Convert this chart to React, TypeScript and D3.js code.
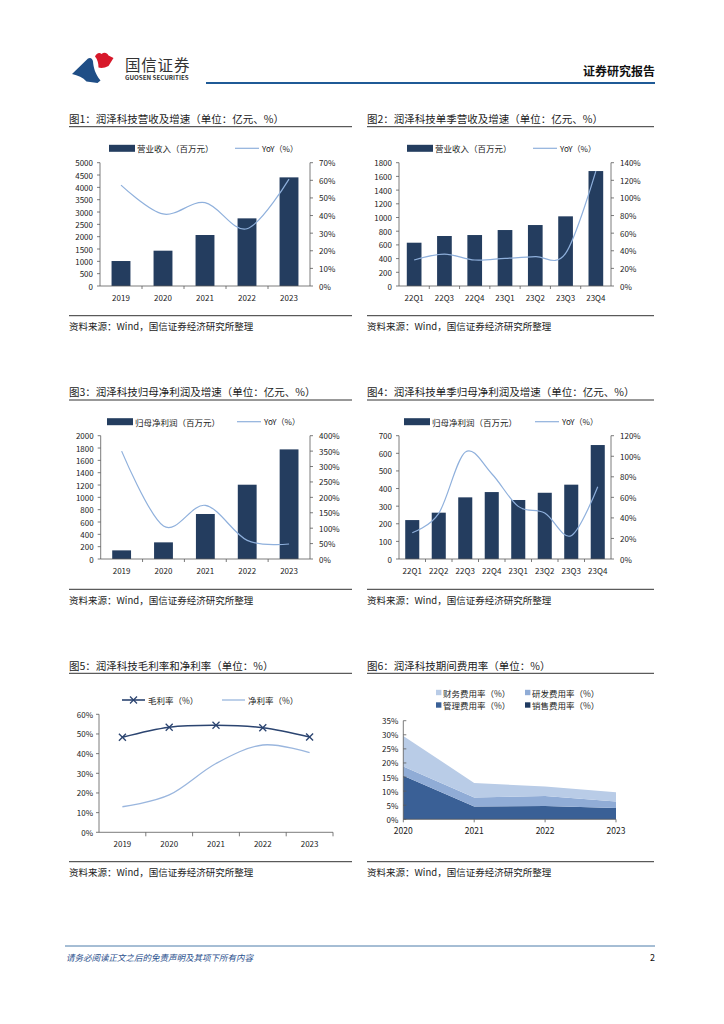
import React from 'react';
import * as d3 from 'd3';

// ---------- DATA ----------
const annualYears = ['2019', '2020', '2021', '2022', '2023'];
const revenue = [1013, 1432, 2068, 2743, 4405];
const revenueYoY = [57.3, 40.9, 47.3, 32.5, 60.7];

const quartersA = ['22Q1', '22Q3', '22Q4', '23Q1', '23Q2', '23Q3', '23Q4'];
const quarterRevenue = [632, 730, 744, 817, 890, 1017, 1678];
const quarterRevenueYoY = [29.5, 36.3, 29.5, 31.4, 33.3, 37, 130.5];

const netProfit = [140, 270, 730, 1205, 1778];
const netProfitYoY = [350, 107, 174, 60.5, 48.6];

const quartersB = ['22Q1', '22Q2', '22Q3', '22Q4', '23Q1', '23Q2', '23Q3', '23Q4'];
const quarterNetProfit = [221, 263, 350, 380, 335, 376, 422, 647];
const quarterNetProfitYoY = [25.6, 44.4, 104, 83, 51.2, 44.7, 22.7, 70.4];

const grossMargin = [48.3, 53.4, 54.4, 53.2, 48.5];
const netMargin = [13, 19, 35, 44.4, 40.5];

const expenseYears = ['2020', '2021', '2022', '2023'];
const sellingRate = [0, 0, 0, 0];
const adminRate = [15.5, 4.5, 4.7, 4.0];
const rdRate = [3.2, 3.2, 3.6, 2.3];
const financeRate = [10.9, 5.2, 3.3, 3.3];

const titles = [
  '图1：润泽科技营收及增速（单位：亿元、%）',
  '图2：润泽科技单季营收及增速（单位：亿元、%）',
  '图3：润泽科技归母净利润及增速（单位：亿元、%）',
  '图4：润泽科技单季归母净利润及增速（单位：亿元、%）',
  '图5：润泽科技毛利率和净利率（单位：%）',
  '图6：润泽科技期间费用率（单位：%）',
];
const sourceText = '资料来源：Wind，国信证券经济研究所整理';

// ---------- STYLE ----------
const FONT = "'Noto Sans CJK SC', 'Noto Sans', sans-serif";
const BAR = '#243d5f';
const YOY = '#8fb0dc';
const AXIS = '#5a5a5a';
const TXT = '#222';

type BarChartProps = {
  cats: string[];
  bars: number[];
  line: number[];
  left: number;
  right: number;
  top: number;
  bottom: number;
  lMax: number;
  lStep: number;
  rMax: number;
  rStep: number;
  pad: number;
  labelY: number;
  legendY: number;
  legRectX: number;
  legText: string;
  legLineX: number;
};

function BarLineChart(p: BarChartProps) {
  const x = d3.scaleBand<string>().domain(p.cats).range([p.left, p.right]).paddingInner(p.pad).paddingOuter(p.pad / 2);
  const yl = d3.scaleLinear().domain([0, p.lMax]).range([p.bottom, p.top]);
  const yr = d3.scaleLinear().domain([0, p.rMax]).range([p.bottom, p.top]);
  const lTicks = d3.range(0, p.lMax + 0.001, p.lStep);
  const rTicks = d3.range(0, p.rMax + 0.001, p.rStep);
  const step = x.step();
  const line = d3
    .line<number>()
    .x((_, i) => (x(p.cats[i]) as number) + x.bandwidth() / 2)
    .y((d) => yr(d))
    .curve(d3.curveCatmullRom.alpha(0));
  return (
    <g>
      <rect x={p.legRectX} y={p.legendY - 3.5} width={26} height={7} fill={BAR} />
      <text x={p.legRectX + 28} y={p.legendY} fontSize={8.5} dominantBaseline="central" fill={TXT}>
        {p.legText}
      </text>
      <line x1={p.legLineX} x2={p.legLineX + 24} y1={p.legendY} y2={p.legendY} stroke={YOY} strokeWidth={1.2} />
      <text x={p.legLineX + 27} y={p.legendY} fontSize={8} dominantBaseline="central" fill={TXT}>
        YoY（%）
      </text>
      {p.bars.map((v, i) => (
        <rect key={i} x={x(p.cats[i])} y={yl(v)} width={x.bandwidth()} height={p.bottom - yl(v)} fill={BAR} />
      ))}
      <line x1={p.left} x2={p.left} y1={p.top} y2={p.bottom} stroke={AXIS} strokeWidth={0.8} />
      <line x1={p.right} x2={p.right} y1={p.top} y2={p.bottom} stroke={AXIS} strokeWidth={0.8} />
      <line x1={p.left} x2={p.right} y1={p.bottom} y2={p.bottom} stroke={AXIS} strokeWidth={0.8} />
      {lTicks.map((t, i) => (
        <g key={'l' + i}>
          <line x1={p.left - 3} x2={p.left} y1={yl(t)} y2={yl(t)} stroke={AXIS} strokeWidth={0.8} />
          <text x={p.left - 7} y={yl(t)} fontSize={8} textAnchor="end" dominantBaseline="central" fill={TXT}>
            {t}
          </text>
        </g>
      ))}
      {rTicks.map((t, i) => (
        <g key={'r' + i}>
          <line x1={p.right} x2={p.right + 3} y1={yr(t)} y2={yr(t)} stroke={AXIS} strokeWidth={0.8} />
          <text x={p.right + 9} y={yr(t)} fontSize={8} textAnchor="start" dominantBaseline="central" fill={TXT}>
            {t + '%'}
          </text>
        </g>
      ))}
      {p.cats.map((c, i) => (
        <g key={'x' + i}>
          {i > 0 && (
            <line
              x1={p.left + step * i}
              x2={p.left + step * i}
              y1={p.bottom}
              y2={p.bottom + 3}
              stroke={AXIS}
              strokeWidth={0.8}
            />
          )}
          <text
            x={(x(c) as number) + x.bandwidth() / 2}
            y={p.labelY}
            fontSize={8}
            textAnchor="middle"
            dominantBaseline="central"
            fill={TXT}
          >
            {c}
          </text>
        </g>
      ))}
      <path d={line(p.line) || ''} fill="none" stroke={YOY} strokeWidth={1.2} />
    </g>
  );
}

function PanelFrame({ x1, x2, title, titleY, ruleY, srcRuleY, srcY }: any) {
  return (
    <g>
      <text x={x1} y={titleY} fontSize={10.5} dominantBaseline="central" fill={TXT}>
        {title}
      </text>
      <line x1={x1} x2={x2} y1={ruleY} y2={ruleY} stroke="#333" strokeWidth={1} />
      <line x1={x1} x2={x2} y1={srcRuleY} y2={srcRuleY} stroke="#333" strokeWidth={1} />
      <text x={x1} y={srcY} fontSize={9.5} dominantBaseline="central" fill={TXT}>
        {sourceText}
      </text>
    </g>
  );
}

function MarginChart() {
  const left = 99,
    right = 333,
    top = 714.3,
    bottom = 832.3;
  const x = d3.scaleBand<string>().domain(annualYears).range([left, right]);
  const y = d3.scaleLinear().domain([0, 60]).range([bottom, top]);
  const cx = (i: number) => (x(annualYears[i]) as number) + x.bandwidth() / 2;
  const line = d3
    .line<number>()
    .x((_, i) => cx(i))
    .y((d) => y(d))
    .curve(d3.curveCatmullRom.alpha(0));
  const GM = '#2b4470';
  const NM = '#9ab6de';
  const cross = (px: number, py: number, k: string) => (
    <g key={k}>
      <line x1={px - 3.5} x2={px + 3.5} y1={py - 3.5} y2={py + 3.5} stroke={GM} strokeWidth={1.3} />
      <line x1={px - 3.5} x2={px + 3.5} y1={py + 3.5} y2={py - 3.5} stroke={GM} strokeWidth={1.3} />
    </g>
  );
  const ticks = d3.range(0, 61, 10);
  return (
    <g>
      <line x1={122} x2={145} y1={700} y2={700} stroke={GM} strokeWidth={1.6} />
      {cross(133.5, 700, 'lg')}
      <text x={148} y={700} fontSize={8.5} dominantBaseline="central" fill={TXT}>
        毛利率（%）
      </text>
      <line x1={222} x2={245} y1={700} y2={700} stroke={NM} strokeWidth={1.3} />
      <text x={248} y={700} fontSize={8.5} dominantBaseline="central" fill={TXT}>
        净利率（%）
      </text>
      <line x1={left} x2={left} y1={top} y2={bottom} stroke={AXIS} strokeWidth={0.8} />
      <line x1={left} x2={right} y1={bottom} y2={bottom} stroke={AXIS} strokeWidth={0.8} />
      {ticks.map((t) => (
        <g key={t}>
          <line x1={left - 3} x2={left} y1={y(t)} y2={y(t)} stroke={AXIS} strokeWidth={0.8} />
          <text x={left - 6} y={y(t)} fontSize={8} textAnchor="end" dominantBaseline="central" fill={TXT}>
            {t + '%'}
          </text>
        </g>
      ))}
      {annualYears.map((c, i) => (
        <g key={c}>
          <line
            x1={left + x.step() * (i + 1)}
            x2={left + x.step() * (i + 1)}
            y1={bottom}
            y2={bottom + 4}
            stroke={AXIS}
            strokeWidth={0.8}
          />
          <text x={cx(i)} y={843.3} fontSize={8} textAnchor="middle" dominantBaseline="central" fill={TXT}>
            {c}
          </text>
        </g>
      ))}
      <path d={line(netMargin) || ''} fill="none" stroke={NM} strokeWidth={1.3} />
      <path d={line(grossMargin) || ''} fill="none" stroke={GM} strokeWidth={1.6} />
      {grossMargin.map((v, i) => cross(cx(i), y(v), 'm' + i))}
    </g>
  );
}

function ExpenseChart() {
  const left = 403.3,
    right = 616,
    top = 720.7,
    bottom = 819.3;
  const x = d3.scalePoint<string>().domain(expenseYears).range([left, right]);
  const y = d3.scaleLinear().domain([0, 35]).range([bottom, top]);
  const rows = expenseYears.map((yr, i) => ({
    year: yr,
    selling: sellingRate[i],
    admin: adminRate[i],
    rd: rdRate[i],
    finance: financeRate[i],
  }));
  const keys = ['selling', 'admin', 'rd', 'finance'];
  const colors: Record<string, string> = {
    selling: '#1f3a60',
    admin: '#3a6096',
    rd: '#90acd6',
    finance: '#b9cce7',
  };
  const series = d3.stack<any>().keys(keys)(rows);
  const area = d3
    .area<any>()
    .x((d) => x(d.data.year) as number)
    .y0((d) => y(d[0]))
    .y1((d) => y(d[1]));
  const ticks = d3.range(0, 36, 5);
  const legend = [
    { key: 'finance', label: '财务费用率（%）', lx: 436, ly: 692.5 },
    { key: 'rd', label: '研发费用率（%）', lx: 525, ly: 692.5 },
    { key: 'admin', label: '管理费用率（%）', lx: 436, ly: 705 },
    { key: 'selling', label: '销售费用率（%）', lx: 525, ly: 705 },
  ];
  return (
    <g>
      {legend.map((l) => (
        <g key={l.key}>
          <rect x={l.lx} y={l.ly - 2.7} width={5.4} height={5.4} fill={colors[l.key]} />
          <text x={l.lx + 7} y={l.ly} fontSize={8.5} dominantBaseline="central" fill={TXT}>
            {l.label}
          </text>
        </g>
      ))}
      {series.map((s) => (
        <path key={s.key} d={area(s as any) || ''} fill={colors[s.key]} />
      ))}
      <line x1={left} x2={left} y1={top} y2={bottom} stroke={AXIS} strokeWidth={0.8} />
      <line x1={left} x2={right} y1={bottom} y2={bottom} stroke={AXIS} strokeWidth={0.8} />
      {ticks.map((t) => (
        <g key={t}>
          <line x1={left} x2={left + 3} y1={y(t)} y2={y(t)} stroke={AXIS} strokeWidth={0.8} />
          <text x={left - 5} y={y(t)} fontSize={8} textAnchor="end" dominantBaseline="central" fill={TXT}>
            {t + '%'}
          </text>
        </g>
      ))}
      {expenseYears.map((c) => (
        <g key={c}>
          <line x1={x(c)} x2={x(c)} y1={bottom} y2={bottom + 3} stroke={AXIS} strokeWidth={0.8} />
          <text x={x(c)} y={830} fontSize={8.5} textAnchor="middle" dominantBaseline="central" fill={TXT}>
            {c}
          </text>
        </g>
      ))}
    </g>
  );
}

export default function App() {
  return (
    <svg
      width={724}
      height={1024}
      viewBox="0 0 724 1024"
      style={{ position: 'absolute', left: 0, top: 0, background: '#fff', fontFamily: FONT }}
    >
      <rect x={0} y={0} width={724} height={1024} fill="#fff" />
      {/* header logo */}
      <path
        d="M72 74 L88 58.5 C90.5 57 92.5 58.5 93 61.5 C93.5 67 95 74 100.5 80.5 L97.5 83 L86.5 81.5 C83 77.5 78 75.5 72 74 Z"
        fill="#1f4e86"
      />
      <path
        d="M95 56.5 C96.5 53 99.5 52 101.5 54 C104 52 107 52.5 108.5 55.5 L113.5 58 L108.5 66 C105 68 101 68.5 98.5 67.5 C98.5 63 97.5 59.5 95 56.5 Z"
        fill="#d7182a"
      />
      <text x={125} y={63.5} fontSize={15.5} dominantBaseline="central" fill="#333" letterSpacing={0.8}>
        国信证券
      </text>
      <text x={125} y={77} fontSize={6.2} dominantBaseline="central" fill="#333" fontWeight="bold">
        GUOSEN SECURITIES
      </text>
      <line x1={206} x2={655} y1={83} y2={83} stroke="#1f5a96" strokeWidth={2} />
      <text x={655} y={70} fontSize={12} textAnchor="end" dominantBaseline="central" fill="#111" fontWeight="bold">
        证券研究报告
      </text>

      <PanelFrame x1={69} x2={352} title={titles[0]} titleY={118.3} ruleY={126.7} srcRuleY={315.7} srcY={326} />
      <PanelFrame x1={367} x2={654} title={titles[1]} titleY={118.3} ruleY={126.7} srcRuleY={315.7} srcY={326} />
      <PanelFrame x1={69} x2={352} title={titles[2]} titleY={391.7} ruleY={400} srcRuleY={589.3} srcY={600} />
      <PanelFrame x1={367} x2={654} title={titles[3]} titleY={391.7} ruleY={400} srcRuleY={589.3} srcY={600} />
      <PanelFrame x1={69} x2={352} title={titles[4]} titleY={665} ruleY={673.3} srcRuleY={861.7} srcY={871.7} />
      <PanelFrame x1={367} x2={654} title={titles[5]} titleY={665} ruleY={673.3} srcRuleY={861.7} srcY={871.7} />

      <BarLineChart
        cats={annualYears}
        bars={revenue}
        line={revenueYoY}
        left={100}
        right={310}
        top={162.7}
        bottom={286}
        lMax={5000}
        lStep={500}
        rMax={70}
        rStep={10}
        pad={0.55}
        labelY={297.7}
        legendY={148.3}
        legRectX={109}
        legText="营业收入（百万元）"
        legLineX={235}
      />
      <BarLineChart
        cats={quartersA}
        bars={quarterRevenue}
        line={quarterRevenueYoY}
        left={399}
        right={611}
        top={162.7}
        bottom={286}
        lMax={1800}
        lStep={200}
        rMax={140}
        rStep={20}
        pad={0.515}
        labelY={297.7}
        legendY={148.3}
        legRectX={407}
        legText="营业收入（百万元）"
        legLineX={533}
      />
      <BarLineChart
        cats={annualYears}
        bars={netProfit}
        line={netProfitYoY}
        left={100.7}
        right={310}
        top={435.7}
        bottom={559}
        lMax={2000}
        lStep={200}
        rMax={400}
        rStep={50}
        pad={0.55}
        labelY={570.7}
        legendY={421.7}
        legRectX={107}
        legText="归母净利润（百万元）"
        legLineX={237}
      />
      <BarLineChart
        cats={quartersB}
        bars={quarterNetProfit}
        line={quarterNetProfitYoY}
        left={399}
        right={611}
        top={435.7}
        bottom={559}
        lMax={700}
        lStep={100}
        rMax={120}
        rStep={20}
        pad={0.47}
        labelY={570.7}
        legendY={421.7}
        legRectX={404}
        legText="归母净利润（百万元）"
        legLineX={535}
      />
      <MarginChart />
      <ExpenseChart />

      <line x1={65} x2={655} y1={946} y2={946} stroke="#1f5a96" strokeWidth={0.8} />
      <text x={66} y={957} fontSize={8.5} fontStyle="italic" dominantBaseline="central" fill="#1f4e8c">
        请务必阅读正文之后的免责声明及其项下所有内容
      </text>
      <text x={655} y={957} fontSize={9} textAnchor="end" dominantBaseline="central" fill="#111">
        2
      </text>
    </svg>
  );
}
